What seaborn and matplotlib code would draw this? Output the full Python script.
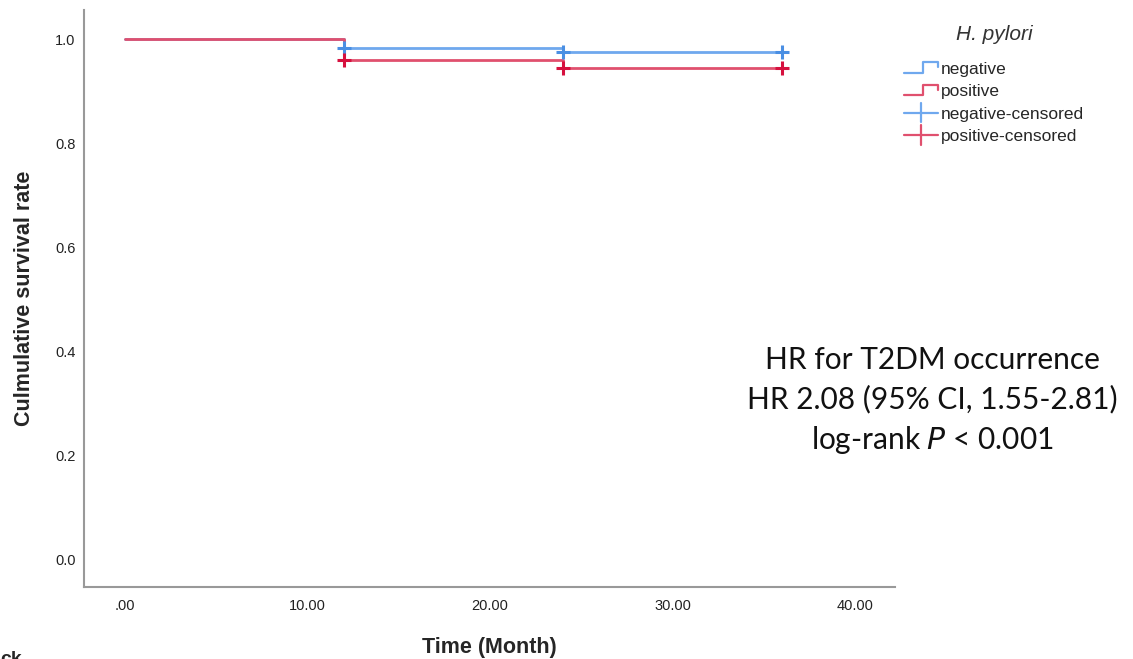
import numpy as np
import pandas as pd
import matplotlib
matplotlib.use("Agg")
import matplotlib.pyplot as plt
from matplotlib.lines import Line2D
from matplotlib.legend_handler import HandlerBase
import seaborn as sns

# ---- data ----
groups = ["negative", "positive"]
times = [0, 12, 24, 36]
surv_negative = [1.0, 0.983, 0.975, 0.975]
surv_positive = [1.0, 0.960, 0.944, 0.944]
cens_times = [12, 24, 36]
cens_negative = [0.983, 0.975, 0.975]
cens_positive = [0.960, 0.944, 0.944]
x_ticks = [0, 10, 20, 30, 40]
x_ticklabels = [".00", "10.00", "20.00", "30.00", "40.00"]
y_ticks = [0.0, 0.2, 0.4, 0.6, 0.8, 1.0]
y_ticklabels = ["0.0", "0.2", "0.4", "0.6", "0.8", "1.0"]

line_colors = {"negative": "#6FA8EE", "positive": "#E0506E"}
mark_colors = {"negative": "#4A8FE3", "positive": "#D6103E"}

steps = pd.DataFrame({
    "time": times * 2,
    "surv": surv_negative + surv_positive,
    "group": ["negative"] * len(times) + ["positive"] * len(times),
})
cens = pd.DataFrame({
    "time": cens_times * 2,
    "surv": cens_negative + cens_positive,
    "group": ["negative"] * len(cens_times) + ["positive"] * len(cens_times),
})

sns.set_theme(style="white")
plt.rcParams["font.family"] = ["Liberation Sans", "DejaVu Sans"]

fig = plt.figure(figsize=(11.33, 6.59), dpi=100)
ax = fig.add_axes([84 / 1133, 1 - 587 / 659, (895 - 84) / 1133, (587 - 10) / 659])

for g in groups:
    sns.lineplot(data=steps[steps.group == g], x="time", y="surv", ax=ax,
                 color=line_colors[g], linewidth=2.0, drawstyle="steps-post",
                 estimator=None, sort=False, legend=False)
for g in groups:
    sns.scatterplot(data=cens[cens.group == g], x="time", y="surv", ax=ax,
                    color=mark_colors[g], marker="+", s=110, linewidth=2.2,
                    legend=False, zorder=5)

ax.set_xlim(-2.25, 42.2)
ax.set_ylim(-0.052, 1.056)
ax.set_xticks(x_ticks)
ax.set_xticklabels(x_ticklabels, fontsize=10.5, family=["Liberation Sans Narrow", "Liberation Sans"])
ax.set_yticks(y_ticks)
ax.set_yticklabels(y_ticklabels, fontsize=10.5)
ax.tick_params(axis="x", length=0, pad=9, colors="#222222")
ax.tick_params(axis="y", length=0, pad=6, colors="#222222")
for s in ["top", "right"]:
    ax.spines[s].set_visible(False)
for s in ["left", "bottom"]:
    ax.spines[s].set_color("#999999")
    ax.spines[s].set_linewidth(1.5)

ax.set_xlabel("Time (Month)", fontsize=15.5, fontweight="bold",
              family=["Liberation Sans Narrow", "Liberation Sans"])
ax.set_ylabel("Culmulative survival rate", fontsize=15.5, fontweight="bold")
ax.xaxis.set_label_coords(0.5, (587 - 637) / 577)
ax.yaxis.set_label_coords((35 - 84) / 811, 0.5)

fig.text(932 / 1133, 1 - 401 / 659,
         "HR for T2DM occurrence\nHR 2.08 (95% CI, 1.55-2.81)\nlog-rank $\\it{P}$ < 0.001",
         ha="center", va="center", fontsize=21.5, family=["Lato", "DejaVu Sans"],
         linespacing=1.45, color="#111111")
fig.text(0.0, 0.0, "ck", fontsize=14, fontweight="bold", ha="left", va="center")


class StepHandler(HandlerBase):
    def create_artists(self, legend, orig_handle, xdescent, ydescent, width, height, fontsize, trans):
        x0, y0 = -xdescent, -ydescent
        xs = [x0, x0 + 0.55 * width, x0 + 0.55 * width, x0 + width, x0 + width]
        ys = [y0 + 0.1 * height, y0 + 0.1 * height, y0 + 0.95 * height, y0 + 0.95 * height, y0 + 0.55 * height]
        return [Line2D(xs, ys, color=orig_handle.get_color(), lw=1.6, transform=trans)]


class CensHandler(HandlerBase):
    def create_artists(self, legend, orig_handle, xdescent, ydescent, width, height, fontsize, trans):
        x0, y0 = -xdescent, -ydescent
        ym = y0 + 0.5 * height
        h = Line2D([x0, x0 + width], [ym, ym], color=orig_handle.get_color(), lw=1.6, transform=trans)
        v = Line2D([x0 + 0.5 * width] * 2, [y0 - 0.3 * height, y0 + 1.3 * height],
                   color=orig_handle.get_color(), lw=1.6, transform=trans)
        return [h, v]


class StepKey(Line2D):
    pass


class CensKey(Line2D):
    pass


handles = [StepKey([], [], color=line_colors["negative"]),
           StepKey([], [], color=line_colors["positive"]),
           CensKey([], [], color=line_colors["negative"]),
           CensKey([], [], color=line_colors["positive"])]
labels = ["negative", "positive", "negative-censored", "positive-censored"]
leg = fig.legend(handles, labels, loc="upper left",
                 bbox_to_anchor=(888 / 1133, 1 - 9 / 659), frameon=False,
                 fontsize=12.5, title="H. pylori", handlelength=2.0, handletextpad=0.15,
                 labelspacing=0.42,
                 handler_map={StepKey: StepHandler(), CensKey: CensHandler()})
leg.get_title().set_fontsize(15)
leg.get_title().set_style("italic")
leg.get_title().set_color("#333333")
leg._legend_box.sep = 13

fig.savefig("out.png", dpi=100)
